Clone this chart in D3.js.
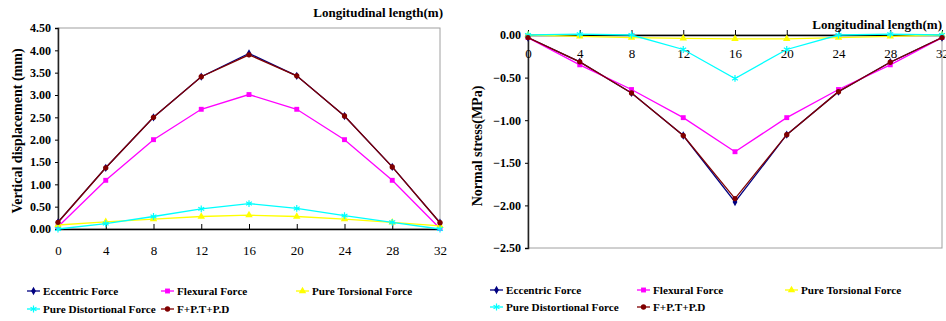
<!DOCTYPE html>
<html>
<head>
<meta charset="utf-8">
<script src="https://cdn.jsdelivr.net/npm/d3@7"></script>
<style>
  body { margin: 0; background: #fff; }
  svg { display: block; font-family: "Liberation Serif", "Times New Roman", serif; }
</style>
</head>
<body>
<svg id="chart" width="946" height="321"></svg>
<script>
// Longitudinal positions (m)
var xLen = [0, 4, 8, 12, 16, 20, 24, 28, 32];

// Vertical displacement (mm)
var dispEccentric = [0.15, 1.37, 2.50, 3.41, 3.93, 3.43, 2.53, 1.39, 0.14];
var dispFlexural = [0.05, 1.09, 2.00, 2.68, 3.01, 2.68, 2.00, 1.09, 0.01];
var dispTorsional = [0.09, 0.16, 0.22, 0.28, 0.31, 0.28, 0.22, 0.15, 0.07];
var dispDistortional = [0.00, 0.12, 0.28, 0.45, 0.57, 0.46, 0.30, 0.15, 0.00];
var dispCombined = [0.15, 1.37, 2.50, 3.41, 3.90, 3.43, 2.53, 1.39, 0.14];

// Normal stress (MPa)
var stressEccentric = [-0.03, -0.315, -0.68, -1.18, -1.96, -1.17, -0.665, -0.32, -0.03];
var stressFlexural = [-0.03, -0.35, -0.64, -0.97, -1.37, -0.97, -0.64, -0.35, -0.03];
var stressTorsional = [0.00, -0.015, -0.03, -0.04, -0.045, -0.045, -0.03, -0.015, 0.00];
var stressDistortional = [0.00, 0.01, 0.00, -0.17, -0.51, -0.17, 0.00, 0.01, 0.00];
var stressCombined = [-0.03, -0.315, -0.68, -1.18, -1.92, -1.17, -0.665, -0.32, -0.03];

var seriesNames = ['Eccentric Force', 'Flexural Force', 'Pure Torsional Force', 'Pure Distortional Force', 'F+P.T+P.D'];
var seriesColors = ['#000080', '#FF00FF', '#FFFF00', '#00FFFF', '#800000'];
var seriesMarkers = ['diamond', 'square', 'triangle', 'star', 'circle'];

var dispTicks = [0, 0.5, 1, 1.5, 2, 2.5, 3, 3.5, 4, 4.5];
var stressTicks = [0, -0.5, -1, -1.5, -2, -2.5];

var svg = d3.select('#chart');

function markerPath(type) {
    var s = {
        diamond: d3.symbol().type(d3.symbolDiamond).size(20),
        square: d3.symbol().type(d3.symbolSquare).size(24),
        triangle: d3.symbol().type(d3.symbolTriangle).size(24),
        star: d3.symbol().type(d3.symbolAsterisk).size(32),
        circle: d3.symbol().type(d3.symbolCircle).size(22)
    };
    return s[type]();
}

function drawMarker(g, type, color, x, y) {
    var p = g.append('path')
        .attr('d', markerPath(type))
        .attr('transform', 'translate(' + x + ',' + y + ')');
    if(type == 'star') p.attr('fill', 'none').attr('stroke', color).attr('stroke-width', 1.2);
    else p.attr('fill', color);
}

function drawChart(cfg) {
    var g = svg.append('g');
    var x = d3.scaleLinear().domain([0, 32]).range([cfg.left, cfg.right]);
    var y = d3.scaleLinear().domain(cfg.yDomain).range([cfg.bottom, cfg.top]);

    // Plot frame (gray borders)
    g.append('rect')
        .attr('x', cfg.left).attr('y', cfg.top)
        .attr('width', cfg.right - cfg.left).attr('height', cfg.bottom - cfg.top)
        .attr('fill', 'none').attr('stroke', '#a0a0a0').attr('stroke-width', 1);

    // Y axis
    var yAxis = g.append('g')
        .attr('transform', 'translate(' + cfg.left + ',0)')
        .call(d3.axisLeft(y).tickValues(cfg.yTicks).tickFormat(d3.format('.2f')).tickSize(3).tickPadding(4));
    yAxis.select('.domain').attr('stroke', '#222').attr('stroke-width', 1.5);
    yAxis.selectAll('text')
        .attr('font-size', 12).attr('font-weight', 'bold')
        .attr('font-family', 'Liberation Serif').attr('fill', '#000');

    // X axis along zero line, ticks upward, labels below
    var y0 = y(0);
    var xAxis = g.append('g')
        .attr('transform', 'translate(0,' + y0 + ')')
        .call(d3.axisBottom(x).tickValues(xLen).tickSizeInner(-5).tickSizeOuter(0).tickPadding(cfg.xPad));
    xAxis.select('.domain').attr('stroke', '#000').attr('stroke-width', 1.5);
    xAxis.selectAll('text')
        .attr('font-size', 13)
        .attr('font-family', 'Liberation Serif').attr('fill', '#000');

    // Series lines and markers
    var line = d3.line().x((d, i) => x(xLen[i])).y(d => y(d));
    cfg.series.forEach(function(vals, k) {
        g.append('path')
            .datum(vals)
            .attr('d', line)
            .attr('fill', 'none')
            .attr('stroke', seriesColors[k])
            .attr('stroke-width', 1.3);
        vals.forEach(function(v, i) {
            drawMarker(g, seriesMarkers[k], seriesColors[k], x(xLen[i]), y(v));
        });
    });

    // Axis titles
    g.append('text')
        .attr('x', cfg.xTitleX).attr('y', cfg.xTitleY)
        .attr('text-anchor', 'end')
        .attr('font-size', 13).attr('font-weight', 'bold')
        .text('Longitudinal length(m)');
    g.append('text')
        .attr('transform', 'translate(' + cfg.yTitleX + ',' + cfg.yTitleY + ') rotate(-90)')
        .attr('text-anchor', 'middle')
        .attr('font-size', 14).attr('font-weight', 'bold')
        .text(cfg.yTitle);

    // Legend
    var lg = g.append('g');
    seriesNames.forEach(function(name, k) {
        var lx = cfg.legendX[k], ly = cfg.legendY[k];
        lg.append('line')
            .attr('x1', lx).attr('x2', lx + 13)
            .attr('y1', ly).attr('y2', ly)
            .attr('stroke', seriesColors[k]).attr('stroke-width', 1.3);
        drawMarker(lg, seriesMarkers[k], seriesColors[k], lx + 6.5, ly);
        lg.append('text')
            .attr('x', lx + 16).attr('y', ly + 4)
            .attr('font-size', 11.2).attr('font-weight', 'bold')
            .text(name);
    });
}

drawChart({
    left: 58, right: 440, top: 28, bottom: 229,
    yDomain: [0, 4.5], yTicks: dispTicks, xPad: 17,
    series: [dispEccentric, dispFlexural, dispTorsional, dispDistortional, dispCombined],
    yTitle: 'Vertical displacement (mm)', yTitleX: 22, yTitleY: 131,
    xTitleX: 443, xTitleY: 17,
    legendX: [27, 161, 296, 27, 161],
    legendY: [291, 291, 291, 309, 309]
});

drawChart({
    left: 528, right: 942, top: 35, bottom: 248,
    yDomain: [-2.5, 0], yTicks: stressTicks, xPad: 14,
    series: [stressEccentric, stressFlexural, stressTorsional, stressDistortional, stressCombined],
    yTitle: 'Normal stress(MPa)', yTitleX: 482, yTitleY: 146,
    xTitleX: 942, xTitleY: 29,
    legendX: [490, 637, 785, 490, 637],
    legendY: [290, 290, 290, 307, 307]
});
</script>
</body>
</html>
